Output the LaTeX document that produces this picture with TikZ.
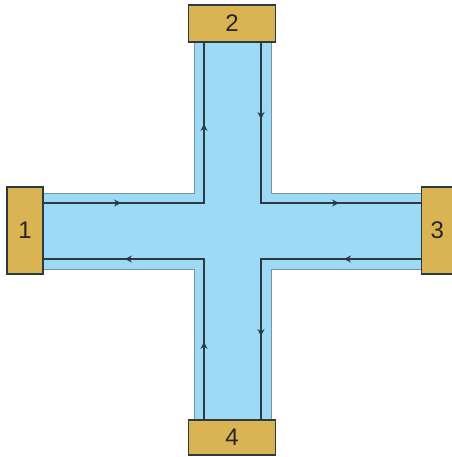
\documentclass[tikz,border=0pt]{standalone}
\usepackage{fontspec}
\setmainfont{Liberation Sans}
\usetikzlibrary{arrows.meta,decorations.markings}
\definecolor{wg}{HTML}{9DDAF5}
\definecolor{gold}{HTML}{DAB352}
\definecolor{edge}{HTML}{7A93A3}
\definecolor{dk}{HTML}{2E3A42}
\tikzset{
  port/.style={draw=dk, line width=1.4pt, fill=gold, inner sep=0pt, font=\fontsize{24}{24}\selectfont, text=black!85},
  flow/.style={draw=dk, line width=1.1pt},
  tip/.style={decoration={markings, mark=at position #1 with {\arrow{Stealth[length=7pt,width=7pt,inset=2.5pt]}}}, postaction=decorate}
}
\begin{document}
\begin{tikzpicture}[x=1pt,y=-1pt]
\useasboundingbox (0,0) rectangle (451,457);
% waveguide cross
\filldraw[fill=wg, draw=edge, line width=0.5pt]
  (194,42) -- (271,42) -- (271,193) -- (421,193) -- (421,269) -- (271,269) -- (271,420)
  -- (194,420) -- (194,269) -- (43,269) -- (43,193) -- (194,193) -- cycle;
% inner flow lines
\coordinate (a1) at (43,203);  \coordinate (a2) at (204,203); \coordinate (a3) at (204,42);
\coordinate (b1) at (261,42);  \coordinate (b2) at (261,203); \coordinate (b3) at (421,203);
\coordinate (c1) at (204,420); \coordinate (c2) at (204,259); \coordinate (c3) at (43,259);
\coordinate (d1) at (421,259); \coordinate (d2) at (261,259); \coordinate (d3) at (261,420);
\path[flow, tip=78pt] (a1) -- (a2) -- (a3);
\path[flow, tip=240pt] (a1) -- (a2) -- (a3);
\path[flow, tip=77pt] (b1) -- (b2) -- (b3);
\path[flow, tip=239pt] (b1) -- (b2) -- (b3);
\path[flow, tip=78pt] (c1) -- (c2) -- (c3);
\path[flow, tip=240pt] (c1) -- (c2) -- (c3);
\path[flow, tip=77pt] (d1) -- (d2) -- (d3);
\path[flow, tip=237pt] (d1) -- (d2) -- (d3);
% ports
\node[port, minimum width=36pt, minimum height=87pt] (p1) at (25,230.5) {1};
\node[port, minimum width=87pt, minimum height=37pt] (p2) at (232,23.5) {2};
\node[port, minimum width=31pt, minimum height=87pt, anchor=west] (p3) at (421,230.5) {3};
\node[port, minimum width=87pt, minimum height=35pt] (p4) at (232,437.5) {4};
\end{tikzpicture}
\end{document}
